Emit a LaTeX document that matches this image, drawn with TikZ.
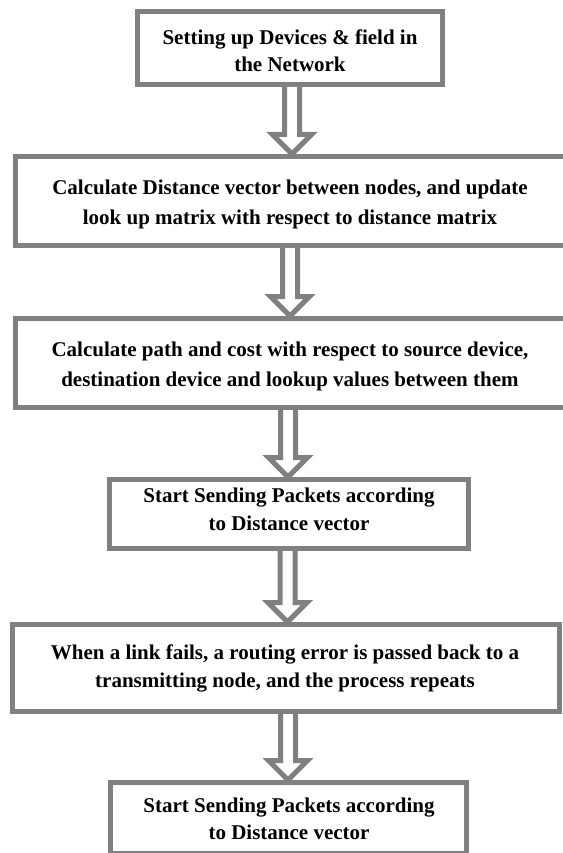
\documentclass[tikz,border=0pt]{standalone}
\usepackage{fontspec}
\setmainfont{Liberation Serif}
\usetikzlibrary{calc}
\definecolor{boxgray}{RGB}{128,128,128}
\tikzset{
  flowbox/.style={draw=boxgray, line width=5pt, rectangle, inner sep=0pt, outer sep=0pt},
  flowtext/.style={align=center, inner sep=0pt, font=\fontsize{21}{27.5}\selectfont\bfseries},
  widetext/.style={flowtext, font=\fontsize{21}{30}\selectfont\bfseries},
  hollowarrow/.style={draw=boxgray, fill=white, line width=5pt, line join=miter},
}
% hollow block arrow from the bottom of box #1 to the top of box #2, on the vertical line through #3
\newcommand\flowarrow[3]{%
  \draw[hollowarrow]
    ($(#1.south -| #3)+(-7.5,2.5)$) -- ($(#2.north -| #3)+(-7.5,-22)$)
    -- ($(#2.north -| #3)+(-19.5,-22)$) -- ($(#2.north -| #3)+(0,-2.5)$)
    -- ($(#2.north -| #3)+(19.5,-22)$) -- ($(#2.north -| #3)+(7.5,-22)$)
    -- ($(#1.south -| #3)+(7.5,2.5)$);}
\begin{document}
\begin{tikzpicture}[x=1pt, y=-1pt]
\useasboundingbox (0,0) rectangle (562,853);

% boxes
\node[flowbox, minimum width=305pt, minimum height=73pt] (b1) at (290,48) {};
\node[flowbox, minimum width=551.5pt, minimum height=89pt] (b2) at (291.25,201) {};
\node[flowbox, minimum width=551.5pt, minimum height=89pt] (b3) at (291.25,363) {};
\node[flowbox, minimum width=359pt, minimum height=69pt] (b4) at (289,514) {};
\node[flowbox, minimum width=547pt, minimum height=87pt] (b5) at (286,668) {};
\node[flowbox, minimum width=356pt, minimum height=71pt] (b6) at (288.5,818) {};

% texts
\node[flowtext] (t1) at (290,50.5) {Setting up Devices \& field in\\the Network};
\node[widetext] (t2) at (290,204) {Calculate Distance vector between nodes, and update\\look up matrix with respect to distance matrix};
\node[widetext] (t3) at (290,366) {Calculate path and cost with respect to source device,\\destination device and lookup values between them};
\node[flowtext] (t4) at (289,509.5) {Start Sending Packets according\\to Distance vector};
\node[flowtext] (t5) at (285,668.5) {When a link fails, a routing error is passed back to a\\transmitting node, and the process repeats};
\node[flowtext] (t6) at (289,819) {Start Sending Packets according\\to Distance vector};

% arrow axes
\coordinate (x1) at (292,0);
\coordinate (x2) at (290,0);
\coordinate (x3) at (288,0);
\coordinate (x4) at (287.5,0);
\coordinate (x5) at (288,0);

% connectors
\flowarrow{b1}{b2}{x1}
\flowarrow{b2}{b3}{x2}
\flowarrow{b3}{b4}{x3}
\flowarrow{b4}{b5}{x4}
\flowarrow{b5}{b6}{x5}
\end{tikzpicture}
\end{document}
